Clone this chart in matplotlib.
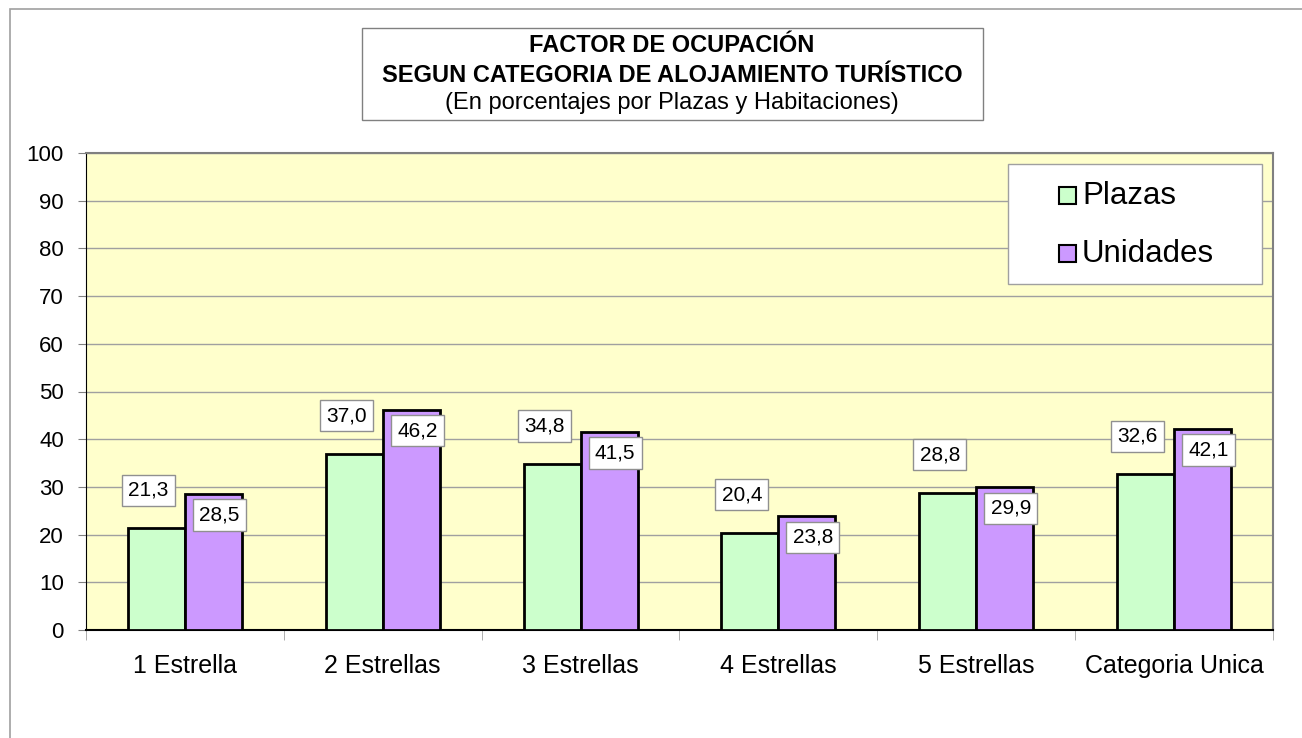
import matplotlib
matplotlib.use("Agg")
import matplotlib.pyplot as plt
from matplotlib.patches import Rectangle
import numpy as np

plt.rcParams['font.family'] = ['Liberation Sans', 'DejaVu Sans']

categories = ["1 Estrella", "2 Estrellas", "3 Estrellas", "4 Estrellas", "5 Estrellas", "Categoria Unica"]
plazas = [21.3, 37.0, 34.8, 20.4, 28.8, 32.6]
unidades = [28.5, 46.2, 41.5, 23.8, 29.9, 42.1]
series_names = ["Plazas", "Unidades"]
yticks = list(range(0, 101, 10))

W, H = 1302, 738
fig = plt.figure(figsize=(W / 100, H / 100), dpi=100)
fig.patch.set_facecolor("white")

def fx(px):
    return px / W

def fy(py):
    return 1 - py / H

# outer chart frame
fig.patches.append(Rectangle((fx(10), fy(760)), fx(1320) - fx(10), fy(9) - fy(760),
                             transform=fig.transFigure, facecolor="none",
                             edgecolor="#a0a0a0", linewidth=1.2))

AX_L, AX_R, AX_T, AX_B = 86, 1273, 153, 630
ax = fig.add_axes([fx(AX_L), fy(AX_B), fx(AX_R) - fx(AX_L), fy(AX_T) - fy(AX_B)])
ax.set_facecolor("#FFFFCC")

x = np.arange(len(categories))
bw = 0.288
green = "#CCFFCC"
purple = "#CC99FF"
colors = [green, purple]
ax.bar(x - bw / 2, plazas, bw, color=green, edgecolor="black", linewidth=2, zorder=3)
ax.bar(x + bw / 2, unidades, bw, color=purple, edgecolor="black", linewidth=2, zorder=3)

ax.set_xlim(-0.5, len(categories) - 0.5)
ax.set_ylim(0, 100)
ax.set_yticks(yticks)
ax.yaxis.grid(True, color="#a0a0a0", linewidth=1)
ax.set_axisbelow(True)
ax.tick_params(axis="y", labelsize=16, length=6, color="#808080", pad=10)
ax.set_xticks(x)
ax.set_xticklabels(categories, fontsize=18)
ax.tick_params(axis="x", length=0, pad=17)
ax.set_xticks(np.arange(-0.5, len(categories), 1), minor=True)
ax.tick_params(axis="x", which="minor", length=7, color="#a0a0a0")
for s in ["top", "right"]:
    ax.spines[s].set_color("#808080")
    ax.spines[s].set_linewidth(1.5)
ax.spines["left"].set_color("black")
ax.spines["bottom"].set_color("black")
ax.spines["bottom"].set_linewidth(1.5)

def fmt(v):
    return f"{v:.1f}".replace(".", ",")

bbox = dict(boxstyle="square,pad=0.3", facecolor="white", edgecolor="#909090", linewidth=1)
for xi, v in zip(x, plazas):
    ax.annotate(fmt(v), (xi - bw / 2, v), xytext=(-8, 38), textcoords="offset pixels",
                ha="center", va="center", fontsize=15, bbox=bbox, zorder=5)
for xi, v in zip(x, unidades):
    ax.annotate(fmt(v), (xi + bw / 2, v), xytext=(6, -21), textcoords="offset pixels",
                ha="center", va="center", fontsize=15, bbox=bbox, zorder=5)

# legend (drawn manually to match the wide padded box)
fig.patches.append(Rectangle((fx(1008), fy(284)), fx(1262) - fx(1008), fy(164) - fy(284),
                             transform=fig.transFigure, facecolor="white",
                             edgecolor="#a0a0a0", linewidth=1, zorder=6))
for name, col, cy in zip(series_names, colors, [196, 254]):
    fig.patches.append(Rectangle((fx(1059), fy(cy + 8)), fx(17), 17 / H,
                                 transform=fig.transFigure, facecolor=col,
                                 edgecolor="black", linewidth=1.5, zorder=7))
    fig.text(fx(1082), fy(cy), name, ha="left", va="center", fontsize=22.5, zorder=8)

# title box
fig.patches.append(Rectangle((fx(362), fy(120)), fx(983) - fx(362), fy(28) - fy(120),
                             transform=fig.transFigure, facecolor="white",
                             edgecolor="#808080", linewidth=1))
fig.text(fx(672), fy(46), "FACTOR DE OCUPACIÓN", ha="center", va="center", fontsize=17, fontweight="bold")
fig.text(fx(672), fy(75), "SEGUN CATEGORIA DE ALOJAMIENTO TURÍSTICO", ha="center", va="center", fontsize=17, fontweight="bold")
fig.text(fx(672), fy(103), "(En porcentajes por Plazas y Habitaciones)", ha="center", va="center", fontsize=17)

fig.savefig("out.png", dpi=100)
